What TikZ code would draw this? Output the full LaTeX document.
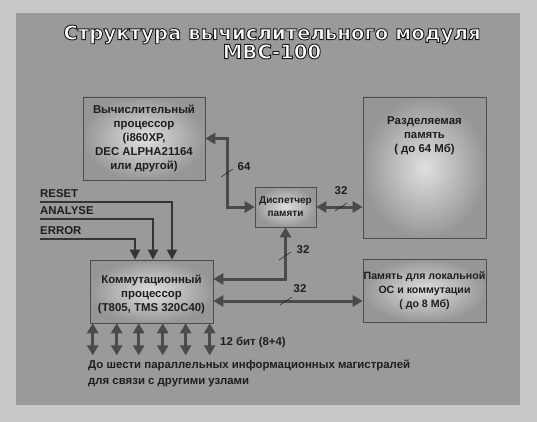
\documentclass[tikz,border=0pt]{standalone}
\usepackage{fontspec}
\setmainfont{Liberation Sans}
\newfontfamily\titlefont{DejaVu Sans}
\usetikzlibrary{calc,positioning}
\usetikzlibrary{arrows.meta}
\definecolor{outergray}{HTML}{C8C8C8}
\definecolor{panelgray}{HTML}{9A9A9A}
\definecolor{busgray}{HTML}{4A4A4A}
\definecolor{inkgray}{HTML}{1E1E1E}
% white letters with a dark rim
\newcommand\rimtext[1]{\special{pdf:literal direct 2 Tr 0.9 w 0.1 G}#1\special{pdf:literal direct 0 Tr}}

\begin{document}
\begin{tikzpicture}[x=1pt,y=-1pt,
  blk/.style={draw=black!70,line width=0.6pt,inner color=gray!25,outer color=gray!82,
    text=inkgray,font=\bfseries\fontsize{11.4}{14}\selectfont,align=center,inner sep=0pt},
  lbl/.style={text=inkgray,font=\bfseries\fontsize{11.4}{14}\selectfont,inner sep=0pt},
  ttl/.style={font=\titlefont\bfseries\fontsize{19.7}{19}\selectfont,align=center,inner sep=0pt},
  bus/.style={draw=busgray,line width=3pt,
    {Triangle[length=10pt,width=11pt]}-{Triangle[length=10pt,width=11pt]}},
  sig/.style={draw=inkgray!90,line width=2pt,-{Triangle[length=10pt,width=10pt]}},
  tick/.style={draw=inkgray,line width=0.5pt}]
\useasboundingbox (0,0) rectangle (537,422);
\fill[outergray] (0,0) rectangle (537,422);
\fill[panelgray] (16,13) rectangle (520,405);
% title
\node[ttl,text=white] (title) at (272,42)
  {\rimtext{Структура вычислительного модуля}\\\rimtext{МВС-100}};
% blocks
\node[blk,minimum width=122,minimum height=83] (cpu) at (144,138.5)
  {Вычислительный\\процессор\\(i860XP,\\DEC ALPHA21164\\или другой)};
\node[blk,minimum width=123,minimum height=141,text depth=66pt] (shmem) at (424.5,167.5)
  {Разделяемая\\память\\( до 64 Мб)};
\node[blk,minimum width=61,minimum height=40,font=\bfseries\fontsize{10}{13}\selectfont] (disp) at (285.5,207)
  {Диспетчер\\памяти};
\node[blk,minimum width=123,minimum height=63] (comm) at (151.5,291.5)
  {\\Коммутационный\\процессор\\(T805, TMS 320C40)};
\node[blk,minimum width=123,minimum height=63,font=\bfseries\fontsize{10.6}{14}\selectfont] (locmem) at (424.5,290.5)
  {Память для локальной\\ОС и коммутации\\( до 8 Мб)};
% buses
\coordinate (k64) at (227,0);
\draw[bus] (cpu.east) -| (k64 |- disp.west) -- (disp.west);
\draw[bus] (disp.east) -- (disp.east -| shmem.west);
\draw[bus] (disp.south) |- ([yshift=12.5pt]comm.east);
\coordinate (c32) at ([yshift=-9.5pt]comm.east);
\draw[bus] (c32) -- (c32 -| locmem.west);
\draw[tick] (227,173) ++(-6,4) -- ++(12,-8);
\draw[tick] (341,207) ++(-6,4) -- ++(12,-8);
\draw[tick] (285,256) ++(-6,4) -- ++(12,-8);
\draw[tick] (286,301) ++(-6,4) -- ++(12,-8);
\node[lbl] (n64) at (244,167) {64};
\node[lbl] (n32a) at (341,191) {32};
\node[lbl] (n32b) at (303,250) {32};
\node[lbl] (n32c) at (300,289) {32};
% control signals
\node[lbl,anchor=south west] (lreset) at (40,198) {RESET};
\node[lbl,anchor=south west] (lanalyse) at (40,215) {ANALYSE};
\node[lbl,anchor=south west] (lerror) at (40,235) {ERROR};
\draw[sig] (lreset.south west) ++(0,4) -| ([xshift=20.5pt]comm.north);
\draw[sig] (lanalyse.south west) ++(0,4) -| ([xshift=1.5pt]comm.north);
\draw[sig] (lerror.south west) ++(0,4) -| ([xshift=-16.5pt]comm.north);
% links to other nodes
\foreach \dx in {3,27,49,73,96,120}
  \draw[bus] ([xshift=\dx pt]comm.south west) -- ++(0,32);
\node[lbl,anchor=west] (nbits) at (220,342) {12 бит (8+4)};
\node[lbl,anchor=north west,align=left,font=\bfseries\fontsize{11.4}{16}\selectfont] (nlinks) at (88,360)
  {До шести параллельных информационных магистралей\\для связи с другими узлами};
\end{tikzpicture}
\end{document}
